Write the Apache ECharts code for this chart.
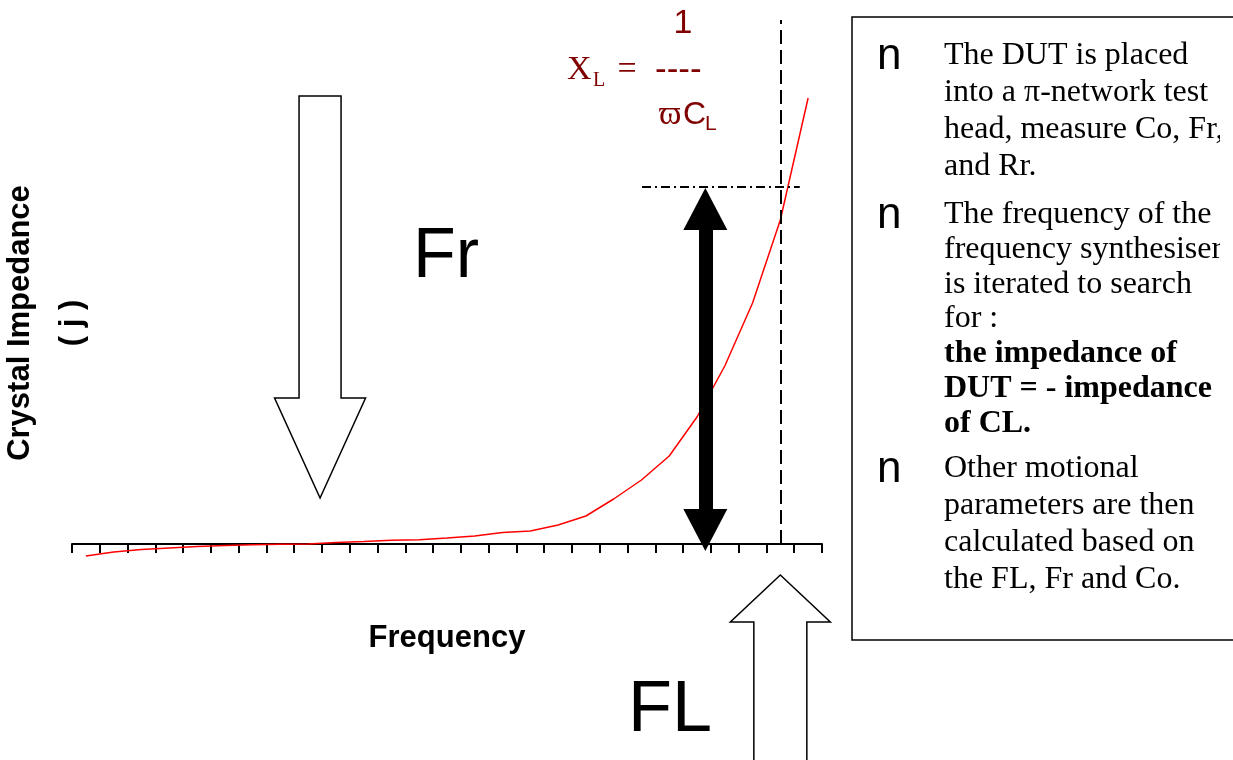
<!DOCTYPE html>
<html><head><meta charset="utf-8">
<script src="https://cdn.jsdelivr.net/npm/echarts@6/dist/echarts.min.js"></script>
<style>html,body{margin:0;padding:0;background:#fff}#c{width:1233px;height:760px}</style>
</head><body><div id="c"></div>
<script>
// ---- data ----
const categories = ['f1','f2','f3','f4','f5','f6','f7','f8','f9','f10','f11','f12','f13','f14','f15','f16','f17','f18','f19','f20','f21','f22','f23','f24','f25','f26','f27'];
const impedance = [-12, -8, -5.5, -4, -2.5, -1.5, -0.8, -0.3, 0, 1.5, 2.5, 3.7, 4.3, 6, 8, 11.5, 13, 19, 28, 45, 64, 88, 127, 178, 241, 324, 446];
const xlLevel = 356;          // impedance of -CL (top of double arrow)
const flFreq = 25.5;          // FL position on annotation axis
const flLineTop = 524;        // top of the FL dashed marker
const dutArrowX = 22.8;       // position of the black double arrow
const xlLineRange = [20.52, 26.2];
const frArrowTip = [8.93, 46];
const flArrowTip = [25.5, -31];
const para1 = ['The DUT is placed', 'into a \u03c0-network test', 'head, measure Co, Fr,', 'and Rr.'];
const para2 = ['The frequency of the', 'frequency synthesiser', 'is iterated to search', 'for :', 'the impedance of', 'DUT = - impedance', 'of CL.'];
const para2Bold = [false, false, false, false, true, true, true];
const para3 = ['Other motional', 'parameters are then', 'calculated based on', 'the FL, Fr and Co.'];

const chart = echarts.init(document.getElementById('c'));
const baseFont = 'Liberation Sans';
chart.setOption({
  animation: false,
  backgroundColor: '#fff',
  grid: { left: 72, right: 411, top: 20, bottom: 134, containLabel: false, outerBoundsMode: 'none' },
  xAxis: [{
    type: 'category', data: categories, boundaryGap: true,
    axisLine: { onZero: true, lineStyle: { color: '#000', width: 2 } },
    axisTick: { show: true, inside: false, length: 9, interval: 0, lineStyle: { color: '#000', width: 2 } },
    axisLabel: { show: false }, splitLine: { show: false },
    name: 'Frequency', nameLocation: 'middle', nameGap: -3,
    nameTextStyle: { fontFamily: baseFont, fontWeight: 'bold', fontSize: 31, color: '#000' }
  }, {
    type: 'value', min: 0, max: 27, show: false
  }],
  yAxis: {
    type: 'value', min: -82, max: 524,
    axisLine: { show: false }, axisTick: { show: false }, axisLabel: { show: false }, splitLine: { show: false },
    name: 'Crystal Impedance\n( j )', nameLocation: 'middle', nameRotate: 90, nameGap: -26,
    nameTextStyle: { fontFamily: baseFont, fontWeight: 'bold', fontSize: 31, color: '#000', lineHeight: 52 }
  },
  series: [{
    type: 'line', data: impedance, symbol: 'none', silent: true, z: 3,
    lineStyle: { color: '#ff0000', width: 1.5 }, itemStyle: { color: '#ff0000' }
  }, {
    type: 'line', xAxisIndex: 1, data: [], silent: true,
    markLine: {
      silent: true, animation: false, symbol: ['none', 'none'], label: { show: false },
      data: [
        [{ coord: [flFreq, 0], lineStyle: { type: [14, 6], width: 2, color: '#000' } }, { coord: [flFreq, flLineTop] }],
        [{ coord: [xlLineRange[0], xlLevel + 1], lineStyle: { type: [9, 4, 2, 4], width: 2, color: '#000' } }, { coord: [xlLineRange[1], xlLevel + 1] }],
        [{ coord: [dutArrowX, -7 + 21], symbol: 'triangle', symbolSize: [44, 42], itemStyle: { color: '#000' }, lineStyle: { type: 'solid', width: 14, color: '#000' } },
         { coord: [dutArrowX, xlLevel - 21], symbol: 'triangle', symbolSize: [44, 42], itemStyle: { color: '#000' } }]
      ]
    }
  }]
});

function txt(x, y, text, font, fill, align, vAlign) {
  return { type: 'text', x: x, y: y, silent: true, z: 10,
    style: { text: text, font: font, fill: fill || '#000', align: align || 'left', textAlign: align || 'left',
      verticalAlign: vAlign || 'middle', textVerticalAlign: vAlign || 'middle' } };
}
const serif = '"Liberation Serif", "Times New Roman", serif';
const sans = '"Liberation Sans", Arial, sans-serif';
const red = '#800000';
const g = [];

// Hollow Fr arrow (pointing down)
const fr = chart.convertToPixel({ seriesIndex: 1 }, frArrowTip);
g.push({ type: 'polygon', silent: true, z: 5, shape: { points: [
  [fr[0] - 21, fr[1] - 402], [fr[0] + 21, fr[1] - 402], [fr[0] + 21, fr[1] - 100], [fr[0] + 45.5, fr[1] - 100],
  [fr[0], fr[1]], [fr[0] - 45.5, fr[1] - 100], [fr[0] - 21, fr[1] - 100]] },
  style: { fill: '#fff', stroke: '#000', lineWidth: 1.5 } });
// Hollow FL arrow (pointing up)
const fl = chart.convertToPixel({ seriesIndex: 1 }, flArrowTip);
g.push({ type: 'polygon', silent: true, z: 5, shape: { points: [
  [fl[0], fl[1]], [fl[0] + 50, fl[1] + 47], [fl[0] + 26.5, fl[1] + 47], [fl[0] + 26.5, fl[1] + 260],
  [fl[0] - 26.5, fl[1] + 260], [fl[0] - 26.5, fl[1] + 47], [fl[0] - 50, fl[1] + 47]] },
  style: { fill: '#fff', stroke: '#000', lineWidth: 1.5 } });

// big labels
g.push(txt(446, 258, 'Fr', '70px ' + sans, '#000', 'center'));
g.push(txt(670, 711, 'FL', '72px ' + sans, '#000', 'center'));

// formula
g.push(txt(683, 24, '1', '34px ' + sans, red, 'center'));
g.push(txt(567, 70, 'X', '34px ' + serif, red));
g.push(txt(593, 81, 'L', '20px ' + serif, red));
g.push(txt(627, 70, '=', '34px ' + serif, red, 'center'));
g.push(txt(655, 70, '----', '35px ' + sans, red));
g.push(txt(659, 115, '\u03d6', '34px ' + serif, red));
g.push(txt(683, 115, 'C', '32px ' + sans, red));
g.push(txt(705, 124, 'L', '21px ' + sans, red));

// text box
g.push({ type: 'rect', silent: true, z: 1, shape: { x: 852, y: 17, width: 420, height: 623 },
  style: { fill: '#fff', stroke: '#000', lineWidth: 1.5 } });
const paragraphs = [
  { lines: para1, bold: null, start: 56, step: 37 },
  { lines: para2, bold: para2Bold, start: 214.5, step: 34.8 },
  { lines: para3, bold: null, start: 469, step: 37 }
];
paragraphs.forEach(function (p) {
  g.push(txt(877, p.start + 1, 'n', '44px ' + sans, '#000'));
  p.lines.forEach(function (line, li) {
    const bold = p.bold && p.bold[li];
    g.push(txt(944, p.start + li * p.step, line, (bold ? 'bold ' : '') + '32px ' + serif, '#000'));
  });
});
// clip of text box on the right
g.push({ type: 'rect', silent: true, z: 20, shape: { x: 1220, y: 18.5, width: 20, height: 620 }, style: { fill: '#fff' } });

chart.setOption({ graphic: g });
</script></body></html>
